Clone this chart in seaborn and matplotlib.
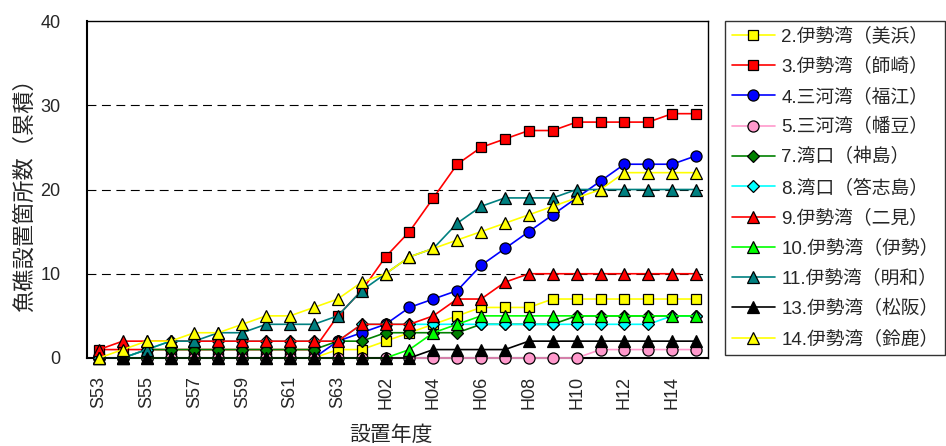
import numpy as np
import pandas as pd
import matplotlib
matplotlib.use('Agg')
import matplotlib.pyplot as plt
import seaborn as sns

# 設置年度 (S53 - H15)
years = ['S53', 'S54', 'S55', 'S56', 'S57', 'S58', 'S59', 'S60', 'S61', 'S62', 'S63',
         'H01', 'H02', 'H03', 'H04', 'H05', 'H06', 'H07', 'H08', 'H09', 'H10',
         'H11', 'H12', 'H13', 'H14', 'H15']

# cumulative counts
mihama   = [0, 0, 0, 0, 0, 0, 0, 0, 0, 0, 1, 1, 2, 3, 4, 5, 6, 6, 6, 7, 7, 7, 7, 7, 7, 7]
morozaki = [1, 1, 1, 1, 1, 1, 1, 1, 1, 1, 5, 8, 12, 15, 19, 23, 25, 26, 27, 27, 28, 28, 28, 28, 29, 29]
fukue    = [0, 0, 0, 0, 0, 0, 0, 0, 0, 0, 2, 3, 4, 6, 7, 8, 11, 13, 15, 17, 19, 21, 23, 23, 23, 24]
hazu     = [0, 0, 0, 0, 0, 0, 0, 0, 0, 0, 0, 0, 0, 0, 0, 0, 0, 0, 0, 0, 0, 1, 1, 1, 1, 1]
kamishima = [0, 0, 1, 1, 1, 1, 1, 1, 1, 1, 2, 2, 3, 3, 3, 3, 4, 4, 4, 4, 5, 5, 5, 5, 5, 5]
toshijima = [0, 0, 1, 2, 2, 2, 2, 2, 2, 2, 2, 4, 4, 4, 4, 4, 4, 4, 4, 4, 4, 4, 4, 4, 5, 5]
futami   = [1, 2, 2, 2, 2, 2, 2, 2, 2, 2, 2, 4, 4, 4, 5, 7, 7, 9, 10, 10, 10, 10, 10, 10, 10, 10]
ise      = [0, 0, 0, 0, 0, 0, 0, 0, 0, 0, 0, 0, 0, 1, 3, 4, 5, 5, 5, 5, 5, 5, 5, 5, 5, 5]
meiwa    = [0, 0, 1, 2, 2, 3, 3, 4, 4, 4, 5, 8, 10, 12, 13, 16, 18, 19, 19, 19, 20, 20, 20, 20, 20, 20]
matsusaka = [0, 0, 0, 0, 0, 0, 0, 0, 0, 0, 0, 0, 0, 0, 1, 1, 1, 1, 2, 2, 2, 2, 2, 2, 2, 2]
suzuka   = [0, 1, 2, 2, 3, 3, 4, 5, 5, 6, 7, 9, 10, 12, 13, 14, 15, 16, 17, 18, 19, 20, 22, 22, 22, 22]

labels = ['2.伊勢湾（美浜）', '3.伊勢湾（師崎）', '4.三河湾（福江）', '5.三河湾（幡豆）',
          '7.湾口（神島）', '8.湾口（答志島）', '9.伊勢湾（二見）', '10.伊勢湾（伊勢）',
          '11.伊勢湾（明和）', '13.伊勢湾（松阪）', '14.伊勢湾（鈴鹿）']
series = [mihama, morozaki, fukue, hazu, kamishima, toshijima, futami, ise, meiwa, matsusaka, suzuka]
colors = ['#FFFF00', '#FF0000', '#0000FF', '#FF99CC', '#008000', '#00FFFF',
          '#FF0000', '#00FF00', '#008080', '#000000', '#FFFF00']
markers = ['s', 's', 'o', 'o', 'D', 'D', '^', '^', '^', '^', '^']
msizes = [7.5, 7.5, 8, 8, 6, 6, 9, 9, 9, 9, 9]

sns.set_style("white")
plt.rcParams['font.family'] = ['Liberation Sans', 'Noto Sans CJK JP']

fig = plt.figure(figsize=(9.46, 4.46), dpi=100)
ax = fig.add_axes([87/946, 1-358/446, 621/946, 337/446])

pos = np.arange(len(years))
for lab, vals, c, m, ms in zip(labels, series, colors, markers, msizes):
    df = pd.DataFrame({'year': pos, 'count': vals})
    sns.lineplot(data=df, x='year', y='count', ax=ax, color=c, marker=m,
                 markersize=ms, markerfacecolor=c, markeredgecolor='black',
                 markeredgewidth=0.9, linewidth=1.2, label=lab, sort=False,
                 clip_on=False, zorder=3)

ax.set_xlim(-0.5, len(years) - 0.5)
ax.set_ylim(0, 40)
ax.set_yticks([0, 10, 20, 30, 40])
ax.set_yticks(np.arange(0, 41, 2), minor=True)
ax.set_xticks(pos[::2])
ax.set_xticklabels(years[::2], rotation=90, fontsize=13)
ax.set_xticks(np.arange(-0.5, len(years), 1), minor=True)
ax.tick_params(axis='x', which='major', length=0, pad=13)
ax.tick_params(axis='x', which='minor', length=8, direction='inout', width=1)
ax.tick_params(axis='y', which='major', length=10, direction='inout', width=1,
               labelsize=13, pad=14)
ax.tick_params(axis='y', which='minor', length=8, direction='inout', width=1)

for v in [10, 20, 30]:
    ax.axhline(v, color='black', linestyle=(0, (8, 5)), linewidth=0.8, zorder=0)

for s in ax.spines.values():
    s.set_color('black')
    s.set_linewidth(1)
ax.spines['left'].set_linewidth(1.5)
ax.spines['bottom'].set_linewidth(1.5)

ax.set_xlabel('設置年度', fontsize=15)
ax.set_ylabel('魚礁設置箇所数（累積）', fontsize=16)
ax.yaxis.set_label_coords(-0.083, 0.5)
ax.xaxis.set_label_coords(0.49, -0.2)

handles, labs = ax.get_legend_handles_labels()
ax.get_legend().remove()
leg = fig.legend(handles, labs, loc='upper left', bbox_to_anchor=(725/946, 1-21/446),
                 fontsize=13.5, frameon=True, fancybox=False, borderaxespad=0,
                 handlelength=2.3, handletextpad=0.35, labelspacing=0.66, borderpad=0.35)
leg.get_frame().set_edgecolor('black')
leg.get_frame().set_linewidth(1)

fig.savefig('out.png', dpi=100)
